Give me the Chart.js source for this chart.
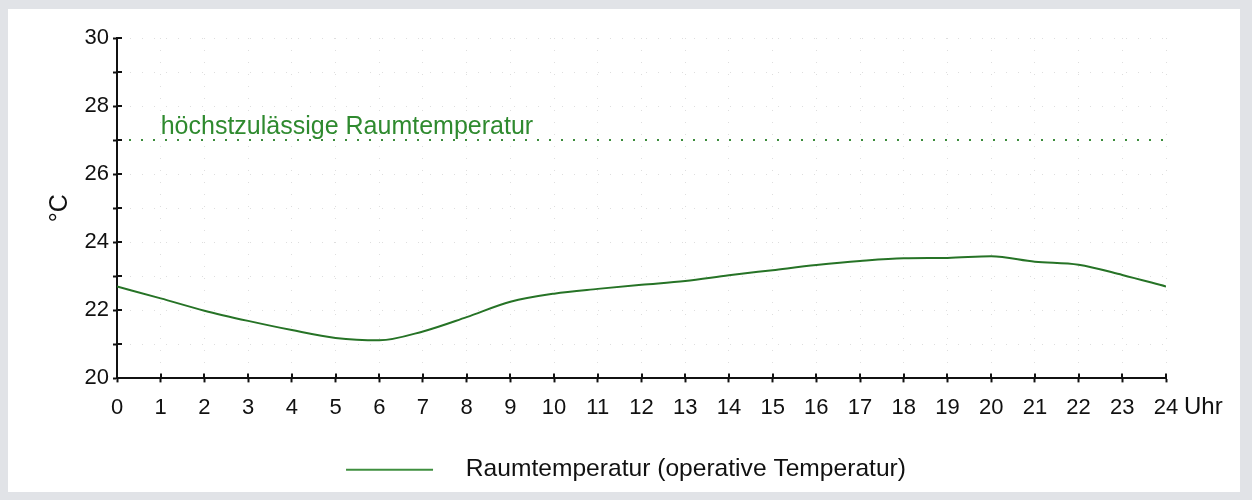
<!DOCTYPE html>
<html>
<head>
<meta charset="utf-8">
<script src="https://cdn.jsdelivr.net/npm/chart.js@4/dist/chart.umd.min.js"></script>
<style>
  html, body { margin: 0; padding: 0; background: #e1e3e7; width: 1252px; height: 500px; overflow: hidden; }
  #panel { position: absolute; left: 8px; top: 9px; width: 1232px; height: 483px; background: #ffffff; }
  #wrap { position: absolute; left: 0; top: 0; width: 1252px; height: 500px; }
</style>
</head>
<body>
<div id="panel"></div>
<div id="wrap"><canvas id="c" width="1252" height="500"></canvas></div>
<script>
// ---- data ----
const hours = [0,1,2,3,4,5,6,7,8,9,10,11,12,13,14,15,16,17,18,19,20,21,22,23,24];
const temps = [22.70,22.35,21.99,21.69,21.42,21.19,21.12,21.38,21.80,22.25,22.49,22.63,22.75,22.86,23.03,23.18,23.33,23.45,23.53,23.54,23.59,23.43,23.34,23.04,22.70];
const limitHours = [0, 24];
const limitValues = [27, 27];
const yTickLabels = [20, 22, 24, 26, 28, 30];
const seriesLabel = 'Raumtemperatur (operative Temperatur)';
const limitLabel = 'höchstzulässige Raumtemperatur';
const xUnit = 'Uhr';
const yTitle = '°C';

const TICKFONT = "'Liberation Sans', Arial, sans-serif";
const FONT = "'Liberation Sans', Arial, sans-serif";

const tempPoints = hours.map((h, i) => ({ x: h, y: temps[i] }));
const limitPoints = limitHours.map((h, i) => ({ x: h, y: limitValues[i] }));

const extras = {
  id: 'extras',
  afterDraw(chart) {
    const ctx = chart.ctx;
    const xs = chart.scales.x, ys = chart.scales.y;
    ctx.save();
    // inward tick stubs
    ctx.strokeStyle = '#111';
    ctx.lineWidth = 2;
    ys.ticks.forEach(t => {
      const py = Math.round(ys.getPixelForValue(t.value));
      ctx.beginPath(); ctx.moveTo(xs.left, py); ctx.lineTo(xs.left + 5, py); ctx.stroke();
    });
    xs.ticks.forEach(t => {
      const px = Math.round(xs.getPixelForValue(t.value));
      ctx.beginPath(); ctx.moveTo(px, ys.bottom); ctx.lineTo(px, ys.bottom - 5); ctx.stroke();
    });
    // unit label after last x tick
    ctx.fillStyle = '#111';
    ctx.font = "24px " + FONT;
    ctx.textAlign = 'left';
    ctx.textBaseline = 'middle';
    ctx.fillText(xUnit, xs.getPixelForValue(24) + 18, ys.bottom + 29);
    // limit label
    ctx.fillStyle = '#2f8a2f';
    ctx.font = "25px " + FONT;
    ctx.textBaseline = 'alphabetic';
    ctx.fillText(limitLabel, xs.getPixelForValue(1), ys.getPixelForValue(27) - 6);
    ctx.restore();
  }
};

new Chart(document.getElementById('c'), {
  type: 'line',
  data: {
    datasets: [
      {
        label: seriesLabel,
        data: tempPoints,
        borderColor: '#267326',
        backgroundColor: '#3f8f3f',
        borderWidth: 2,
        pointRadius: 0,
        tension: 0.4,
        cubicInterpolationMode: 'monotone',
        fill: false
      },
      {
        label: limitLabel,
        data: limitPoints,
        borderColor: '#3c8c3c',
        borderWidth: 2,
        borderDash: [2, 10],
        pointRadius: 0,
        fill: false
      }
    ]
  },
  options: {
    responsive: false,
    animation: false,
    layout: { padding: { left: 0, right: 0, top: 38, bottom: 8 } },
    plugins: {
      tooltip: { enabled: false },
      legend: {
        position: 'bottom',
        labels: {
          boxWidth: 87,
          boxHeight: 2,
          padding: 10,
          color: '#111',
          font: { family: FONT, size: 24.6 },
          filter: (item) => item.datasetIndex === 0,
          generateLabels: (chart) => {
            const ds = chart.data.datasets;
            return ds.map((d, i) => ({
              text: '   ' + d.label,
              fillStyle: '#3f8f3f',
              strokeStyle: '#3f8f3f',
              lineWidth: 0,
              hidden: false,
              datasetIndex: i,
              fontColor: '#111'
            }));
          }
        }
      }
    },
    scales: {
      x: {
        type: 'linear',
        min: 0, max: 24,
        afterFit(s) { s.height = 69; },
        ticks: {
          stepSize: 1,
          padding: 12,
          color: '#111',
          font: { family: TICKFONT, size: 22 },
          maxRotation: 0,
          autoSkip: false
        },
        grid: {
          color: '#dedede',
          lineWidth: 1,
          tickLength: 4,
          tickColor: '#111',
          tickWidth: 2
        },
        border: { display: true, color: '#111', width: 2, dash: [1, 11] }
      },
      y: {
        type: 'linear',
        min: 20, max: 30,
        afterFit(s) { s.width = 117; },
        title: {
          display: true,
          text: yTitle,
          color: '#111',
          font: { family: FONT, size: 25 },
          padding: { top: 45, bottom: 0 }
        },
        ticks: {
          stepSize: 1,
          padding: 4,
          color: '#111',
          font: { family: TICKFONT, size: 22 },
          callback: (v) => (yTickLabels.includes(v) ? String(v) : '')
        },
        grid: {
          color: '#dedede',
          lineWidth: 1,
          tickLength: 4,
          tickColor: '#111',
          tickWidth: 2
        },
        border: { display: true, color: '#111', width: 2, dash: [1, 11] }
      },
      y2: {
        position: 'right',
        display: true,
        afterFit(s) { s.width = 86; },
        ticks: { display: false },
        grid: { display: false, drawTicks: false },
        border: { display: false }
      }
    }
  },
  plugins: [extras]
});
</script>
</body>
</html>
